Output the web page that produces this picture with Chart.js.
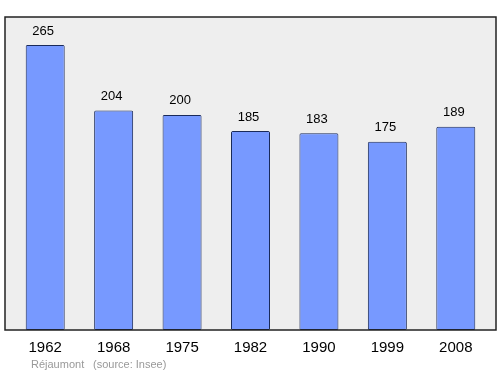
<!DOCTYPE html>
<html>
<head>
<meta charset="utf-8">
<script src="https://cdn.jsdelivr.net/npm/chart.js@4/dist/chart.umd.min.js"></script>
<style>
  body { margin: 0; background: #fff; }
  #wrap { width: 500px; height: 374px; }
</style>
</head>
<body>
<div id="wrap"><canvas id="myChart" width="500" height="374"></canvas></div>
<script>
var years = ['1962', '1968', '1975', '1982', '1990', '1999', '2008'];
var population = [265, 204, 200, 185, 183, 175, 189];
var yMax = 291;
var place = 'Réjaumont';
var source = '(source: Insee)';

var fontName = '"Liberation Sans", Arial, sans-serif';

// grey frame behind the bars, a bit wider than the chart area
var framePlugin = {
    id: 'frame',
    beforeDatasetsDraw: function(chart) {
        var c = chart.ctx, a = chart.chartArea;
        c.save();
        c.fillStyle = '#eeeeee';
        c.fillRect(a.left - 6, a.top, a.right - a.left + 12, a.bottom - a.top);
        c.restore();
    },
    afterDatasetsDraw: function(chart) {
        var c = chart.ctx, a = chart.chartArea;
        c.save();
        c.strokeStyle = '#222';
        c.lineWidth = 1.5;
        c.strokeRect(a.left - 6, a.top, a.right - a.left + 12, a.bottom - a.top);
        c.restore();
    }
};

// value labels above bars, year labels below, footer text
var labelPlugin = {
    id: 'labels',
    afterDraw: function(chart) {
        var c = chart.ctx, a = chart.chartArea;
        var xs = chart.scales.x, ys = chart.scales.y;
        c.save();
        c.textAlign = 'center';
        c.textBaseline = 'middle';
        c.fillStyle = '#000';
        for (var i = 0; i < population.length; i++) {
            var x = xs.getPixelForValue(i);
            c.font = '13px ' + fontName;
            c.fillText(population[i], x - 2, ys.getPixelForValue(population[i]) - 14);
            c.font = '15px ' + fontName;
            c.fillText(years[i], x, a.bottom + 18);
        }
        c.textAlign = 'left';
        c.fillStyle = '#999';
        c.font = '11px ' + fontName;
        c.fillText(place, 31, a.bottom + 35);
        c.fillText(source, 93, a.bottom + 35);
        c.restore();
    }
};

var ctx = document.getElementById('myChart').getContext('2d');
var chart = new Chart(ctx, {
    type: 'bar',
    data: {
        labels: years,
        datasets: [{
            data: population,
            backgroundColor: '#7799ff',
            borderColor: '#1a2a5a',
            borderWidth: 1,
            borderSkipped: false,
            borderRadius: 1.5,
            barPercentage: 0.57,
            categoryPercentage: 1
        }]
    },
    options: {
        responsive: false,
        animation: false,
        layout: { padding: { left: 11, right: 10, top: 17, bottom: 44 } },
        plugins: { legend: { display: false }, tooltip: { enabled: false } },
        scales: {
            x: { display: false },
            y: { display: false, min: 0, max: yMax }
        }
    },
    plugins: [framePlugin, labelPlugin]
});
</script>
</body>
</html>
